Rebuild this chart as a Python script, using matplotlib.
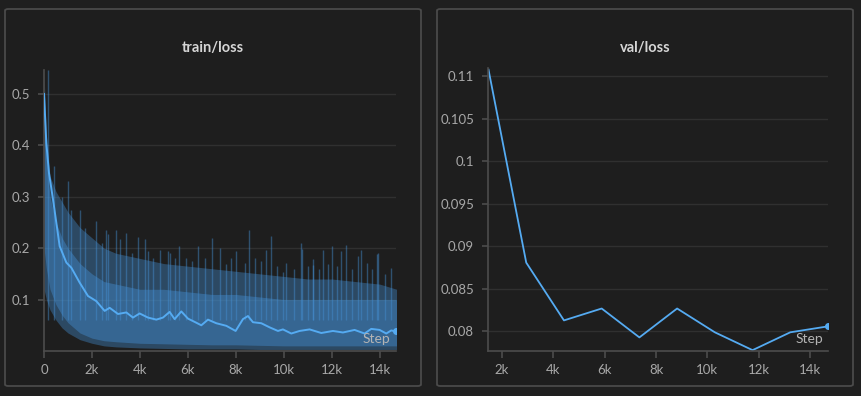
import numpy as np
import matplotlib
matplotlib.use("Agg")
import matplotlib.pyplot as plt
from matplotlib.patches import FancyBboxPatch
from matplotlib.ticker import FuncFormatter

# train/loss: smoothed line
train_steps = [0, 97, 208, 375, 652, 931, 1139, 1486, 1833, 2180, 2528, 2736, 3083, 3431,
               3708, 3986, 4333, 4681, 4958, 5236, 5444, 5722, 6000, 6347, 6556, 6833,
               7181, 7597, 7986, 8292, 8500, 8708, 9056, 9403, 9750, 9958, 10306, 10653,
               11069, 11556, 12042, 12458, 12944, 13361, 13639, 13986, 14264, 14472, 14653]
train_smooth = [0.50, 0.404, 0.346, 0.295, 0.204, 0.172, 0.162, 0.133, 0.107, 0.097, 0.078,
                0.084, 0.072, 0.075, 0.065, 0.073, 0.065, 0.061, 0.065, 0.076, 0.062, 0.077,
                0.063, 0.055, 0.050, 0.061, 0.054, 0.049, 0.039, 0.062, 0.068, 0.056, 0.054,
                0.046, 0.039, 0.042, 0.034, 0.039, 0.042, 0.035, 0.039, 0.036, 0.041, 0.034,
                0.043, 0.041, 0.034, 0.040, 0.038]

# raw-value spread (outer and denser inner band)
band_steps = [0, 100, 250, 500, 750, 1000, 1500, 2000, 2500, 3000, 4000, 5000, 6000, 7000,
              8000, 9000, 10000, 11000, 12000, 13000, 14000, 14700]
band_hi = [0.54, 0.42, 0.34, 0.31, 0.29, 0.27, 0.24, 0.22, 0.20, 0.19, 0.18, 0.17, 0.165,
           0.16, 0.155, 0.15, 0.145, 0.14, 0.14, 0.135, 0.13, 0.12]
band_lo = [0.12, 0.10, 0.08, 0.06, 0.045, 0.035, 0.022, 0.015, 0.010, 0.008, 0.006, 0.005,
           0.004, 0.004, 0.004, 0.003, 0.003, 0.003, 0.003, 0.003, 0.003, 0.003]
inner_hi = [0.48, 0.38, 0.30, 0.25, 0.22, 0.20, 0.17, 0.15, 0.135, 0.13, 0.12, 0.12, 0.115,
            0.11, 0.11, 0.105, 0.10, 0.10, 0.10, 0.10, 0.10, 0.10]
inner_lo = [0.20, 0.16, 0.12, 0.09, 0.07, 0.055, 0.035, 0.025, 0.02, 0.018, 0.015, 0.014,
            0.013, 0.012, 0.012, 0.011, 0.01, 0.01, 0.01, 0.01, 0.01, 0.01]

# tallest raw spikes
spike_steps = [167, 420, 760, 1000, 1139, 1486, 1700, 2180, 2400, 2597, 2667, 3014, 3153,
               3431, 3650, 3903, 4194, 4320, 4550, 4820, 5167, 5236, 5450, 5611, 5900, 6150,
               6417, 6700, 7014, 7319, 7600, 7800, 8014, 8361, 8528, 8800, 9050, 9264, 9445,
               9700, 9958, 10097, 10400, 10722, 10764, 11000, 11195, 11208, 11450, 11625,
               11850, 12014, 12200, 12389, 12597, 12850, 13083, 13195, 13445, 13650, 13875,
               13917, 14200, 14472]
spike_peaks = [0.546, 0.36, 0.30, 0.33, 0.275, 0.275, 0.24, 0.253, 0.21, 0.236, 0.227, 0.236,
               0.217, 0.23, 0.19, 0.221, 0.217, 0.194, 0.18, 0.197, 0.194, 0.19, 0.18, 0.204,
               0.18, 0.175, 0.204, 0.18, 0.22, 0.201, 0.17, 0.18, 0.194, 0.172, 0.235, 0.18,
               0.175, 0.197, 0.223, 0.165, 0.153, 0.172, 0.16, 0.211, 0.199, 0.165, 0.168,
               0.178, 0.16, 0.197, 0.17, 0.204, 0.165, 0.194, 0.207, 0.16, 0.185, 0.197, 0.172,
               0.16, 0.188, 0.191, 0.15, 0.162]

# val/loss
val_steps = [1470, 2940, 4410, 5880, 7350, 8820, 10290, 11760, 13230, 14700]
val_loss = [0.1108, 0.0881, 0.0813, 0.0827, 0.0793, 0.0827, 0.0799, 0.0778, 0.0799, 0.0806]

plt.rcParams['font.family'] = ['Lato', 'DejaVu Sans']

W, H = 861, 396
BG = '#1f1f1f'
LINE = '#55abf2'
BAND = '#4590d4'
TXT = '#a8a8a8'

fig = plt.figure(figsize=(W / 100, H / 100), dpi=100)
fig.patch.set_facecolor(BG)


def px_axes(x0, x1, y0, y1):
    return fig.add_axes([x0 / W, 1 - y1 / H, (x1 - x0) / W, (y1 - y0) / H], zorder=2)


def k_fmt(v, pos):
    return '0' if v == 0 else '%dk' % round(v / 1000)


def style(ax):
    ax.set_facecolor('none')
    for s in ['top', 'right']:
        ax.spines[s].set_visible(False)
    for s in ['left', 'bottom']:
        ax.spines[s].set_color('#4c4c4c')
        ax.spines[s].set_linewidth(1.2)
    ax.tick_params(colors='#4c4c4c', labelcolor=TXT, labelsize=9.5, length=5, width=1.2)
    ax.tick_params(axis='y', length=4, pad=6)
    ax.tick_params(axis='x', pad=4)
    ax.grid(axis='y', color='#303030', linewidth=1)
    ax.set_axisbelow(True)
    ax.xaxis.set_major_formatter(FuncFormatter(k_fmt))
    ax.text(0.985, 0.02, 'Step', transform=ax.transAxes, ha='right', va='bottom',
            color='#b4b4b4', fontsize=10, zorder=7)


# panel frames
for x0 in (5, 437):
    fig.patches.append(FancyBboxPatch((x0 / W, 10 / H), 416 / W, 377 / H,
                                      boxstyle='round,pad=0,rounding_size=0.004',
                                      transform=fig.transFigure, facecolor='#1e1e1e',
                                      edgecolor='#4a4a4a', linewidth=1.3, zorder=-5))

# train/loss
ax1 = px_axes(44, 396, 70, 351)
style(ax1)
ax1.fill_between(band_steps, band_lo, band_hi, color=BAND, alpha=0.38, linewidth=0)
ax1.fill_between(band_steps, inner_lo, inner_hi, color=BAND, alpha=0.42, linewidth=0)
ax1.vlines(spike_steps, 0.06, spike_peaks, color=BAND, alpha=0.45, linewidth=1.0)
ax1.plot(train_steps, train_smooth, color=LINE, linewidth=1.4, zorder=5)
ax1.plot(train_steps[-1], train_smooth[-1], 'o', color=LINE, markersize=4, zorder=6)
ax1.set_xlim(0, 14670)
ax1.set_ylim(0, 0.5465)
ax1.set_xticks(np.arange(0, 14001, 2000))
ax1.set_yticks([0.1, 0.2, 0.3, 0.4, 0.5])
ax1.yaxis.set_major_formatter(FuncFormatter(lambda v, p: '%g' % v))
fig.text(213 / W, 1 - 48 / H, 'train/loss', ha='center', va='center',
         color='#d6d6d6', fontsize=10.5, fontweight='bold')

# val/loss
ax2 = px_axes(488, 828, 68, 351)
style(ax2)
ax2.plot(val_steps, val_loss, color=LINE, linewidth=1.3)
ax2.plot(val_steps[-1], val_loss[-1], 'o', color=LINE, markersize=4)
ax2.set_xlim(1450, 14700)
ax2.set_ylim(0.0777, 0.111)
ax2.set_xticks(np.arange(2000, 14001, 2000))
ax2.set_yticks([0.08, 0.085, 0.09, 0.095, 0.1, 0.105, 0.11])
ax2.yaxis.set_major_formatter(FuncFormatter(lambda v, p: '%g' % round(v, 4)))
fig.text(645 / W, 1 - 48 / H, 'val/loss', ha='center', va='center',
         color='#d6d6d6', fontsize=10.5, fontweight='bold')

fig.savefig('out.png', dpi=100, facecolor=BG)
